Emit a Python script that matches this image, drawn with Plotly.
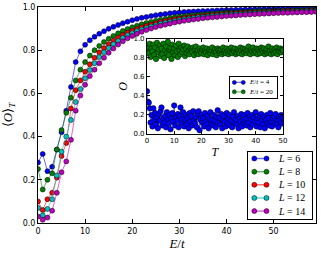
import numpy as np
import plotly.graph_objects as go

# ---------------- data ----------------
E_VALUES = list(range(60))
L_LABELS = ["6", "8", "10", "12", "14"]
COLORS = ["#0000ff", "#008000", "#ff0000", "#00bfbf", "#bf00bf"]
LINE_COLORS = ["rgba(0,0,255,0.6)", "rgba(0,128,0,0.6)", "rgba(255,0,0,0.6)",
               "rgba(0,191,191,0.6)", "rgba(191,0,191,0.6)"]

O_L6 = [0.28, 0.32, 0.24, 0.26, 0.34, 0.42, 0.52, 0.63, 0.745, 0.795,
        0.825, 0.846, 0.862, 0.876, 0.888, 0.899, 0.908, 0.917, 0.925, 0.932,
        0.939, 0.945, 0.950, 0.954, 0.958, 0.962, 0.965, 0.968, 0.971, 0.973,
        0.975, 0.977, 0.978, 0.979, 0.980, 0.981, 0.982, 0.983, 0.984, 0.985,
        0.986, 0.986, 0.987, 0.987, 0.988, 0.988, 0.989, 0.989, 0.990, 0.990,
        0.990, 0.991, 0.991, 0.991, 0.992, 0.992, 0.992, 0.993, 0.993, 0.993]
O_L8 = [0.25, 0.155, 0.20, 0.23, 0.34, 0.43, 0.51, 0.58, 0.66, 0.71,
        0.745, 0.775, 0.80, 0.82, 0.838, 0.853, 0.866, 0.878, 0.889, 0.898,
        0.906, 0.913, 0.920, 0.926, 0.931, 0.936, 0.941, 0.945, 0.949, 0.952,
        0.955, 0.958, 0.960, 0.962, 0.964, 0.966, 0.968, 0.970, 0.971, 0.973,
        0.974, 0.975, 0.976, 0.977, 0.978, 0.979, 0.980, 0.981, 0.981, 0.982,
        0.983, 0.983, 0.984, 0.984, 0.985, 0.985, 0.986, 0.986, 0.987, 0.987]
O_L10 = [0.10, 0.06, 0.11, 0.14, 0.21, 0.31, 0.37, 0.53, 0.615, 0.66,
         0.70, 0.735, 0.765, 0.79, 0.81, 0.828, 0.844, 0.858, 0.870, 0.881,
         0.890, 0.898, 0.906, 0.913, 0.919, 0.925, 0.930, 0.935, 0.939, 0.943,
         0.946, 0.949, 0.952, 0.955, 0.957, 0.959, 0.961, 0.963, 0.965, 0.967,
         0.968, 0.970, 0.971, 0.972, 0.973, 0.974, 0.975, 0.976, 0.977, 0.978,
         0.979, 0.979, 0.980, 0.981, 0.981, 0.982, 0.982, 0.983, 0.983, 0.984]
O_L12 = [0.07, 0.035, 0.065, 0.11, 0.22, 0.33, 0.40, 0.477, 0.56, 0.62,
         0.67, 0.708, 0.74, 0.768, 0.79, 0.81, 0.828, 0.843, 0.857, 0.869,
         0.879, 0.888, 0.896, 0.903, 0.910, 0.916, 0.922, 0.927, 0.931, 0.935,
         0.939, 0.943, 0.946, 0.949, 0.952, 0.954, 0.956, 0.958, 0.960, 0.962,
         0.964, 0.965, 0.967, 0.968, 0.969, 0.970, 0.971, 0.972, 0.973, 0.974,
         0.975, 0.976, 0.977, 0.977, 0.978, 0.979, 0.979, 0.980, 0.980, 0.981]
O_L14 = [0.03, 0.015, 0.025, 0.057, 0.14, 0.235, 0.285, 0.385, 0.52, 0.59,
         0.64, 0.68, 0.71, 0.74, 0.765, 0.788, 0.808, 0.826, 0.841, 0.855,
         0.866, 0.876, 0.885, 0.893, 0.900, 0.907, 0.913, 0.918, 0.923, 0.928,
         0.932, 0.936, 0.939, 0.942, 0.945, 0.948, 0.950, 0.952, 0.954, 0.956,
         0.958, 0.960, 0.961, 0.963, 0.964, 0.965, 0.967, 0.968, 0.969, 0.970,
         0.971, 0.972, 0.973, 0.973, 0.974, 0.975, 0.976, 0.976, 0.977, 0.978]
MAIN_SERIES = [O_L6, O_L8, O_L10, O_L12, O_L14]

# inset: O(T) for two energies (values in hundredths)
T_VALUES = np.linspace(0, 50, 151)
O_E4_PCT = [45, 34, 33, 27, 12, 20, 8, 27, 15, 22,
            10, 18, 6, 21, 14, 24, 28, 9, 17, 12,
            19, 7, 23, 15, 11, 20, 5, 16, 22, 13,
            30, 9, 18, 14, 21, 7, 19, 28, 12, 16,
            23, 8, 15, 20, 10, 17, 6, 22, 13, 19,
            9, 24, 14, 11, 18, 7, 21, 24, 4, 15,
            20, 12, 17, 8, 22, 13, 10, 19, 6, 16,
            23, 11, 15, 9, 20, 14, 7, 18, 25, 12,
            17, 10, 21, 6, 15, 19, 13, 8, 22, 11,
            16, 20, 9, 14, 7, 18, 23, 12, 15, 10,
            19, 6, 17, 13, 21, 8, 14, 20, 11, 16,
            9, 22, 12, 18, 7, 15, 20, 10, 17, 13,
            23, 8, 16, 12, 19, 7, 21, 14, 10, 18,
            6, 15, 20, 11, 17, 9, 22, 13, 8, 16,
            19, 12, 21, 10, 15, 7, 18, 14, 20, 11,
            17]
O_E20_PCT = [88, 92, 85, 95, 81, 90, 87, 94, 83, 91,
             79, 96, 86, 89, 93, 82, 90, 84, 95, 80,
             88, 92, 85, 97, 83, 89, 91, 79, 94, 86,
             90, 83, 93, 87, 81, 95, 88, 84, 91, 86,
             89, 93, 82, 90, 85, 92, 87, 84, 90, 88,
             86, 91, 83, 89, 92, 85, 88, 84, 90, 87,
             85, 89, 91, 84, 88, 86, 90, 83, 87, 89,
             85, 88, 91, 84, 87, 89, 86, 83, 90, 88,
             85, 87, 89, 84, 91, 86, 88, 85, 90, 87,
             84, 89, 86, 91, 85, 88, 87, 90, 84, 86,
             89, 87, 85, 91, 88, 84, 90, 86, 89, 87,
             85, 88, 92, 86, 84, 89, 87, 91, 85, 88,
             86, 90, 84, 89, 87, 85, 91, 88, 86, 90,
             84, 87, 89, 85, 92, 86, 88, 84, 90, 87,
             85, 89, 86, 91, 84, 88, 87, 90, 86, 89,
             88]
INSET_LABELS = ["4", "20"]
INSET_COLORS = ["#0000ff", "#008000"]
INSET_LINE_COLORS = ["rgba(0,0,255,0.55)", "rgba(0,128,0,0.55)"]
INSET_SERIES = [np.array(O_E4_PCT) / 100.0, np.array(O_E20_PCT) / 100.0]

# ---------------- styles ----------------
SERIF = "Liberation Serif"
SANS = "DejaVu Sans"
MAIN_X_TICKS = [0, 10, 20, 30, 40, 50]
Y_TICKS = [0.0, 0.2, 0.4, 0.6, 0.8, 1.0]
LEG_SAMPLE_X = [1.0, 2.9]
LEG_TEXT_X = 4.3
ILEG_SAMPLE_X = [0.9, 2.8]
ILEG_TEXT_X = 3.6

fig = go.Figure()

for lab, col, lcol, ys in zip(L_LABELS, COLORS, LINE_COLORS, MAIN_SERIES):
    fig.add_trace(go.Scatter(
        x=E_VALUES, y=ys, mode="lines+markers", showlegend=False,
        line=dict(color=lcol, width=1),
        marker=dict(color=col, size=5, line=dict(color="black", width=0.5)),
        xaxis="x", yaxis="y"))

for lab, col, lcol, ys in zip(INSET_LABELS, INSET_COLORS, INSET_LINE_COLORS, INSET_SERIES):
    fig.add_trace(go.Scatter(
        x=T_VALUES, y=ys, mode="lines+markers", showlegend=False,
        line=dict(color=lcol, width=1),
        marker=dict(color=col, size=5.5, line=dict(color="black", width=0.5)),
        xaxis="x2", yaxis="y2"))

annotations = []
# main legend (drawn in its own small axes)
for k, (lab, col, lcol) in enumerate(zip(L_LABELS, COLORS, LINE_COLORS)):
    fig.add_trace(go.Scatter(
        x=LEG_SAMPLE_X, y=[k, k], mode="lines+markers", showlegend=False,
        line=dict(color=lcol, width=1.5),
        marker=dict(color=col, size=5, line=dict(color="black", width=0.5)),
        xaxis="x3", yaxis="y3", hoverinfo="skip"))
    annotations.append(dict(
        x=LEG_TEXT_X, y=k, xref="x3", yref="y3", xanchor="left", yanchor="middle",
        showarrow=False,
        text=f'<i>L</i> = {lab}',
        font=dict(family=SERIF, size=10, color="black")))

# inset legend
for k, (lab, col, lcol) in enumerate(zip(INSET_LABELS, INSET_COLORS, INSET_LINE_COLORS)):
    fig.add_trace(go.Scatter(
        x=ILEG_SAMPLE_X, y=[k, k], mode="lines+markers", showlegend=False,
        line=dict(color=lcol, width=1.2),
        marker=dict(color=col, size=4, line=dict(color="black", width=0.5)),
        xaxis="x4", yaxis="y4", hoverinfo="skip"))
    annotations.append(dict(
        x=ILEG_TEXT_X, y=k, xref="x4", yref="y4", xanchor="left", yanchor="middle",
        showarrow=False,
        text=f'<i>E</i>/<i>t</i> = {lab}',
        font=dict(family=SERIF, size=7, color="black")))

axis_common = dict(showline=True, linecolor="black", linewidth=1, mirror="ticks",
                   ticks="inside", showgrid=False, zeroline=False,
                   tickcolor="black", automargin=False)
box_common = dict(showline=True, linecolor="black", linewidth=1, mirror=True,
                  ticks="", showticklabels=False, showgrid=False, zeroline=False,
                  fixedrange=True, automargin=False)

fig.update_layout(
    width=321, height=254,
    margin=dict(l=38, r=5, t=7, b=31),
    paper_bgcolor="white", plot_bgcolor="white",
    showlegend=False,
    font=dict(family=SANS, size=8, color="black"),
    xaxis=dict(domain=[0, 1], range=[0, 59], tickvals=MAIN_X_TICKS, ticklen=4,
               tickfont=dict(size=8),
               title=dict(text="<i>E</i>/<i>t</i>", font=dict(family=SERIF, size=13),
                          standoff=2),
               anchor="y", **axis_common),
    yaxis=dict(domain=[0, 1], range=[0, 1], tickvals=Y_TICKS, tickformat=".1f",
               ticklen=4, tickfont=dict(size=8),
               title=dict(text="⟨<i>O</i>⟩<sub><i>T</i></sub>",
                          font=dict(family=SERIF, size=13), standoff=8),
               anchor="x", **axis_common),
    xaxis2=dict(domain=[0.392, 0.881], range=[0, 50], tickvals=MAIN_X_TICKS,
                ticklen=3, tickfont=dict(size=7),
                title=dict(text="<i>T</i>", font=dict(family=SERIF, size=12),
                           standoff=3),
                anchor="y2", **axis_common),
    yaxis2=dict(domain=[0.412, 0.852], range=[0, 1], tickvals=Y_TICKS,
                tickformat=".1f", ticklen=3, tickfont=dict(size=7),
                title=dict(text="<i>O</i>", font=dict(family=SERIF, size=12),
                           standoff=3),
                anchor="x2", **axis_common),
    xaxis3=dict(domain=[0.755, 0.986], range=[0, 10], anchor="y3", **box_common),
    yaxis3=dict(domain=[0.0185, 0.329], range=[4.6, -0.5], anchor="x3", **box_common),
    xaxis4=dict(domain=[0.691, 0.860], range=[0, 10], anchor="y4", **box_common),
    yaxis4=dict(domain=[0.577, 0.677], range=[1.7, -0.6], anchor="x4", **box_common),
    annotations=annotations,
)

fig.write_html("out.html",
               config={"displayModeBar": False, "staticPlot": True},
               post_script="document.body.style.margin='0px';"
                           "document.body.style.overflow='hidden';")
